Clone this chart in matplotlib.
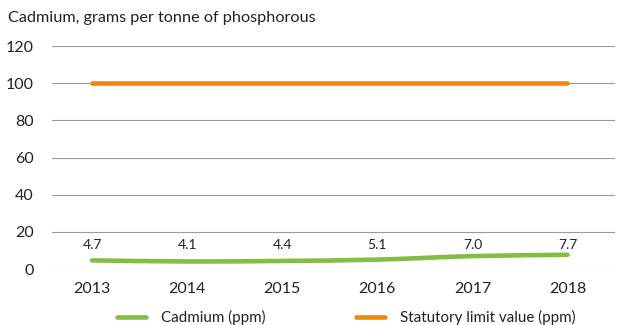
import matplotlib
matplotlib.use("Agg")
import matplotlib.pyplot as plt
from matplotlib.path import Path
from matplotlib.patches import PathPatch
from matplotlib.lines import Line2D
import numpy as np

years = ["2013", "2014", "2015", "2016", "2017", "2018"]
cadmium = [4.7, 4.1, 4.4, 5.1, 7.0, 7.7]
limit = [100, 100, 100, 100, 100, 100]
yticks = [0, 20, 40, 60, 80, 100, 120]

GREEN = "#84BD45"
ORANGE = "#EC8B00"

plt.rcParams["font.family"] = ["Lato", "DejaVu Sans"]

fig = plt.figure(figsize=(6.2, 3.25), dpi=100)
ax = fig.add_axes([0.084, 0.172, 0.908, 0.686])

x = np.arange(len(years))


def smooth_path(xs, ys, t=0.3):
    # cubic Bezier through the points (Catmull-Rom style tangents)
    verts = [(xs[0], ys[0])]
    codes = [Path.MOVETO]
    n = len(xs)
    for i in range(n - 1):
        p0 = (xs[max(i - 1, 0)], ys[max(i - 1, 0)])
        p1 = (xs[i], ys[i])
        p2 = (xs[i + 1], ys[i + 1])
        p3 = (xs[min(i + 2, n - 1)], ys[min(i + 2, n - 1)])
        c1 = (p1[0] + (p2[0] - p0[0]) * t / 2, p1[1] + (p2[1] - p0[1]) * t / 2)
        c2 = (p2[0] - (p3[0] - p1[0]) * t / 2, p2[1] - (p3[1] - p1[1]) * t / 2)
        verts += [c1, c2, p2]
        codes += [Path.CURVE4] * 3
    return Path(verts, codes)


LW = 3.3
ax.add_patch(PathPatch(smooth_path(x, cadmium), fill=False, edgecolor=GREEN,
                       lw=LW, capstyle="round", joinstyle="round", zorder=3))
ax.plot(x, limit, color=ORANGE, lw=LW, solid_capstyle="round", zorder=3)

for xi, v in zip(x, cadmium):
    ax.text(xi, 13, f"{v:.1f}", ha="center", va="center", fontsize=10,
            color="#222222")

ax.set_xlim(-0.42, 5.5)
ax.set_ylim(0, 120)
ax.set_yticks(yticks)
ax.set_xticks(x)
ax.set_xticklabels(years)
ax.grid(axis="y", color="#9a9a9a", lw=0.8)
ax.set_axisbelow(True)
for s in ax.spines.values():
    s.set_visible(False)
ax.tick_params(axis="both", length=0, labelsize=11.5, colors="#222222")
ax.tick_params(axis="y", pad=13)
ax.tick_params(axis="x", pad=9)

fig.text(0.013, 0.945, "Cadmium, grams per tonne of phosphorous",
         fontsize=11.7, color="#222222", va="center")

handles = [Line2D([], [], color=GREEN, lw=LW, solid_capstyle="round"),
           Line2D([], [], color=ORANGE, lw=LW, solid_capstyle="round")]
fig.legend(handles, ["Cadmium (ppm)", "Statutory limit value (ppm)"],
           loc="center", bbox_to_anchor=(0.559, 0.022), ncol=2, frameon=False,
           fontsize=10.9, handlelength=1.9, columnspacing=6.0,
           handletextpad=1.0, labelcolor="#222222")

fig.savefig("out.png", dpi=100)
